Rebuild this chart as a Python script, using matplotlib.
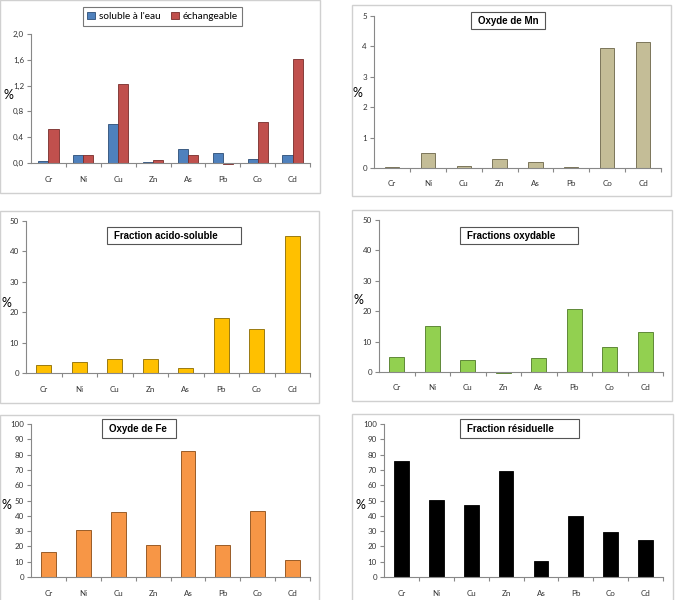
"""
Fractionnement des éléments traces : six panneaux en barres.
"""

import matplotlib
matplotlib.use('Agg')
import matplotlib.pyplot as plt
from matplotlib.patches import Rectangle
from matplotlib.ticker import FuncFormatter

elements = ['Cr', 'Ni', 'Cu', 'Zn', 'As', 'Pb', 'Co', 'Cd']

soluble_eau = [0.03, 0.13, 0.61, 0.01, 0.21, 0.15, 0.06, 0.13]
echangeable = [0.53, 0.12, 1.23, 0.04, 0.13, -0.01, 0.63, 1.61]
oxyde_mn = [0.02, 0.50, 0.06, 0.30, 0.19, 0.04, 3.95, 4.15]
acido_soluble = [2.6, 3.7, 4.6, 4.6, 1.5, 18.0, 14.6, 45.2]
oxydable = [4.9, 15.0, 3.9, -0.3, 4.6, 20.6, 8.2, 13.2]
oxyde_fe = [16.5, 30.5, 42.2, 21.2, 82.5, 20.8, 43.0, 11.2]
residuelle = [75.8, 50.1, 47.0, 69.6, 10.3, 40.0, 29.6, 24.5]

W, H = 676, 600
tick_font = 'Lato'
title_font = 'Liberation Sans'

fig = plt.figure(figsize=(W / 100, H / 100), dpi=100)
fig.patch.set_facecolor('white')


def px_rect(x0, y0, x1, y1, color, lw, z=1):
    # rectangle en pixels (origine en haut à gauche)
    r = Rectangle((x0 / W, 1 - y1 / H), (x1 - x0) / W, (y1 - y0) / H,
                  transform=fig.transFigure, facecolor='white' if z > 1 else 'none',
                  edgecolor=color, linewidth=lw, zorder=z)
    fig.add_artist(r)


def make_axes(left, right, top, bottom):
    ax = fig.add_axes([left / W, 1 - bottom / H, (right - left) / W, (bottom - top) / H])
    for s in ['top', 'right']:
        ax.spines[s].set_visible(False)
    for s in ['left', 'bottom']:
        ax.spines[s].set_color('#888888')
        ax.spines[s].set_linewidth(0.8)
    ax.set_xlim(-0.5, len(elements) - 0.5)
    ax.set_xticks([i + 0.5 for i in range(len(elements) - 1)] + [len(elements) - 0.5])
    ax.set_xticklabels([])
    ax.set_xticks(range(len(elements)), minor=True)
    ax.set_xticklabels(elements, minor=True, fontsize=5.8, family=tick_font, color='#333333')
    ax.tick_params(axis='x', which='major', length=3, color='#888888', width=0.8)
    ax.tick_params(axis='x', which='minor', length=0, pad=9)
    ax.tick_params(axis='y', length=3, color='#888888', width=0.8, labelsize=5.8,
                   labelcolor='#333333', pad=2)
    return ax


def title_box(text, x0, y0, x1, y1):
    px_rect(x0, y0, x1, y1, '#555555', 0.8, z=5)
    fig.text((x0 + 7) / W, 1 - (y0 + y1) / 2 / H, text, fontsize=7, fontweight='bold',
             family=title_font, ha='left', va='center', zorder=6)


def ylabel(x_px, y_px):
    fig.text(x_px / W, 1 - y_px / H, '%', fontsize=9, family=tick_font,
             ha='left', va='center')


def y_font(ax):
    for lab in ax.get_yticklabels():
        lab.set_family(tick_font)


x = range(len(elements))

# --- panneau 1 : soluble à l'eau / échangeable
px_rect(0, 0, 320, 193, '#d0d0d0', 1.0)
ax1 = make_axes(31, 310, 34, 163)
bw = 0.29
ax1.bar([i - bw / 2 for i in x], soluble_eau, bw, color='#4f81bd', edgecolor='#2c4d75',
        linewidth=0.6, label="soluble à l'eau", clip_on=False)
ax1.bar([i + bw / 2 for i in x], echangeable, bw, color='#c0504d', edgecolor='#772c2a',
        linewidth=0.6, label='échangeable', clip_on=False)
ax1.set_ylim(0, 2.0)
ax1.set_yticks([0, 0.4, 0.8, 1.2, 1.6, 2.0])
ax1.yaxis.set_major_formatter(FuncFormatter(lambda v, p: f'{v:.1f}'.replace('.', ',')))
y_font(ax1)
leg = ax1.legend(loc='center', bbox_to_anchor=((84 + 241) / 2 / W, 1 - 16.5 / H),
                 bbox_transform=fig.transFigure, ncol=2, frameon=True,
                 fancybox=False, handlelength=0.75, handleheight=0.75, handletextpad=0.4,
                 columnspacing=1.1, borderpad=0.45, prop={'family': tick_font, 'size': 7.2})
leg.get_frame().set_edgecolor('#555555')
leg.get_frame().set_linewidth(0.8)
ylabel(3, 95)

# --- panneau 2 : oxyde de Mn
px_rect(352, 5, 671, 196, '#d0d0d0', 1.0)
ax2 = make_axes(374, 661, 16, 168)
ax2.bar(x, oxyde_mn, 0.4, color='#c4bd97', edgecolor='#6b6548', linewidth=0.6, clip_on=False)
ax2.set_ylim(0, 5)
ax2.set_yticks(range(0, 6))
y_font(ax2)
title_box('Oxyde de Mn', 471, 12, 545, 29)
ylabel(353, 93)

# --- panneau 3 : fraction acido-soluble
px_rect(0, 211, 319, 403, '#d0d0d0', 1.0)
ax3 = make_axes(26, 310, 221, 373)
ax3.bar(x, acido_soluble, 0.42, color='#ffc000', edgecolor='#8a6a00', linewidth=0.6,
        clip_on=False)
ax3.set_ylim(0, 50)
ax3.set_yticks(range(0, 51, 10))
y_font(ax3)
title_box('Fraction acido-soluble', 107, 227, 241, 244)
ylabel(2, 303)

# --- panneau 4 : fractions oxydable
px_rect(352, 210, 672, 401, '#d0d0d0', 1.0)
ax4 = make_axes(379, 663, 220, 372)
ax4.bar(x, oxydable, 0.42, color='#92d050', edgecolor='#4f7a26', linewidth=0.6,
        clip_on=False)
ax4.set_ylim(0, 50)
ax4.set_yticks(range(0, 51, 10))
y_font(ax4)
title_box('Fractions oxydable', 460, 227, 578, 244)
ylabel(354, 300)

# --- panneau 5 : oxyde de Fe
px_rect(0, 415, 319, 603, '#d0d0d0', 1.0)
ax5 = make_axes(31, 310, 424, 577)
ax5.bar(x, oxyde_fe, 0.42, color='#f79646', edgecolor='#8a4b14', linewidth=0.6,
        clip_on=False)
ax5.set_ylim(0, 100)
ax5.set_yticks(range(0, 101, 10))
y_font(ax5)
title_box('Oxyde de Fe', 102, 419, 176, 438)
ylabel(2, 505)

# --- panneau 6 : fraction résiduelle
px_rect(352, 414, 673, 603, '#d0d0d0', 1.0)
ax6 = make_axes(384, 663, 424, 577)
ax6.bar(x, residuelle, 0.42, color='#000000', edgecolor='#000000', linewidth=0.6,
        clip_on=False)
ax6.set_ylim(0, 100)
ax6.set_yticks(range(0, 101, 10))
y_font(ax6)
title_box('Fraction résiduelle', 460, 419, 579, 438)
ylabel(355, 505)

fig.savefig('out.png', dpi=100)
